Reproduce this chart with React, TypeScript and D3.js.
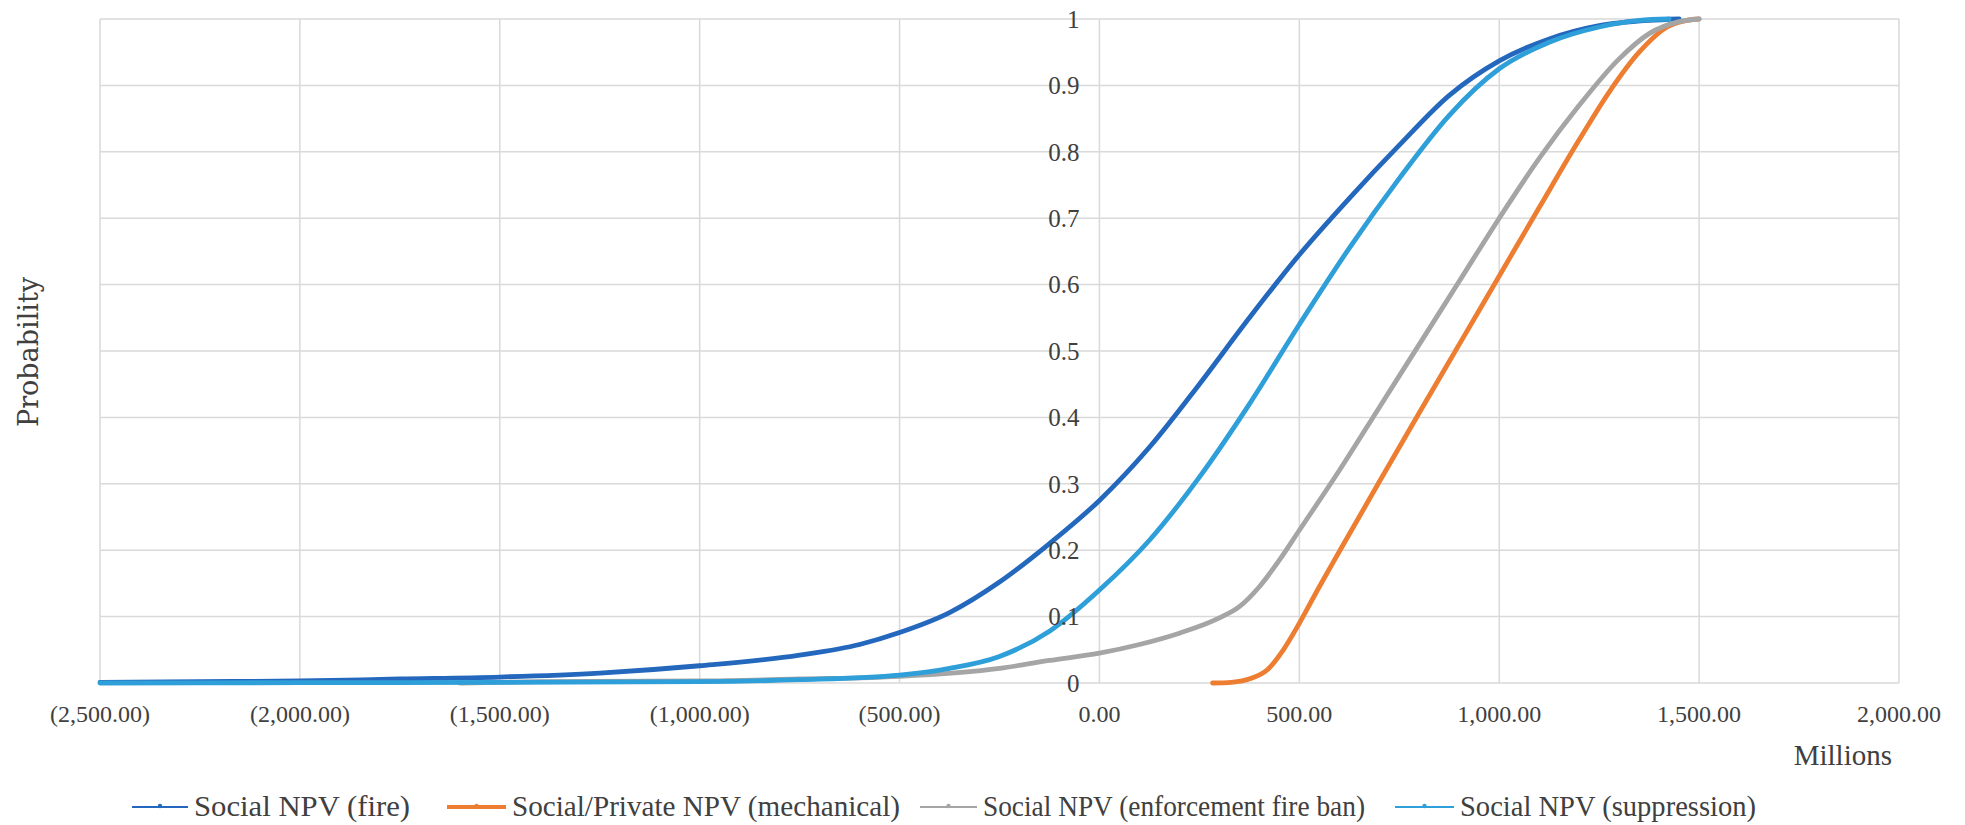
import React from "react";
import * as d3 from "d3";

// ---- data ----
const xTickValues = [-2500, -2000, -1500, -1000, -500, 0, 500, 1000, 1500, 2000];
const yTickValues = [0, 0.1, 0.2, 0.3, 0.4, 0.5, 0.6, 0.7, 0.8, 0.9, 1];

const fireX = [-2500, -2250, -2000, -1750, -1500, -1250, -1000, -750, -600, -500, -375, -250, -125, 0, 125, 250, 375, 500, 625, 750, 875, 1000, 1125, 1250, 1375, 1450];
const fireP = [0.001, 0.002, 0.003, 0.006, 0.009, 0.015, 0.026, 0.042, 0.058, 0.076, 0.106, 0.152, 0.21, 0.275, 0.355, 0.45, 0.55, 0.645, 0.73, 0.81, 0.885, 0.937, 0.97, 0.99, 0.998, 1.0];

const mechX = [283, 330, 380, 420, 460, 500, 550, 600, 700, 800, 900, 1000, 1100, 1200, 1275, 1350, 1420, 1470, 1500];
const mechP = [0.0, 0.001, 0.007, 0.02, 0.05, 0.09, 0.145, 0.198, 0.303, 0.407, 0.51, 0.613, 0.716, 0.818, 0.89, 0.95, 0.988, 0.998, 1.0];

const banX = [-1600, -1400, -1000, -750, -500, -250, -125, 0, 100, 200, 300, 350, 400, 450, 500, 600, 700, 800, 900, 1000, 1100, 1200, 1300, 1375, 1450, 1500];
const banP = [0.0, 0.002, 0.003, 0.006, 0.01, 0.022, 0.034, 0.045, 0.058, 0.075, 0.098, 0.115, 0.145, 0.185, 0.23, 0.32, 0.415, 0.51, 0.605, 0.7, 0.79, 0.87, 0.94, 0.978, 0.996, 1.0];

const supX = [-2500, -2000, -1500, -1000, -750, -500, -375, -250, -125, 0, 125, 250, 375, 500, 625, 750, 875, 1000, 1125, 1250, 1350, 1425];
const supP = [0.0, 0.0005, 0.001, 0.002, 0.005, 0.012, 0.022, 0.04, 0.078, 0.14, 0.215, 0.31, 0.42, 0.54, 0.655, 0.76, 0.855, 0.925, 0.965, 0.988, 0.998, 1.0];

const seriesNames = [
  "Social NPV (fire)",
  "Social/Private NPV (mechanical)",
  "Social NPV (enforcement fire ban)",
  "Social NPV (suppression)",
];
const seriesColors = ["#2468BE", "#ED7D31", "#A5A5A5", "#2F9FD9"];
const seriesXs = [fireX, mechX, banX, supX];
const seriesPs = [fireP, mechP, banP, supP];

const W = 1965;
const H = 825;
const FONT = "Liberation Serif";

export default function App() {
  const x = d3.scaleLinear().domain([-2500, 2000]).range([100, 1899]);
  const y = d3.scaleLinear().domain([0, 1]).range([683, 19]);
  const line = d3
    .line<[number, number]>()
    .x((d) => x(d[0]))
    .y((d) => y(d[1]))
    .curve(d3.curveMonotoneX);

  const fmtX = (v: number) =>
    v < 0 ? `(${d3.format(",.2f")(-v)})` : d3.format(",.2f")(v);
  const fmtY = (v: number) => d3.format("~g")(+v.toFixed(1));

  const legendX = [132, 447, 920, 1395];
  const legendTextX = [194, 512, 983, 1460];
  const legendTextW = [216, 388, 382, 296];
  const legendY = 807;

  return (
    <svg
      width={W}
      height={H}
      style={{ position: "absolute", left: 0, top: 0, background: "#fff" }}
    >
      <rect x={0} y={0} width={W} height={H} fill="#fff" />
      {xTickValues.map((v) => (
        <line key={"vx" + v} x1={x(v)} x2={x(v)} y1={y(1)} y2={y(0)} stroke="#D9D9D9" strokeWidth={1.5} />
      ))}
      {yTickValues.map((v) => (
        <line key={"hy" + v} x1={x(-2500)} x2={x(2000)} y1={y(v)} y2={y(v)} stroke="#D9D9D9" strokeWidth={1.5} />
      ))}
      {seriesXs.map((xs, i) => (
        <path
          key={"s" + i}
          d={line(xs.map((v, j) => [v, seriesPs[i][j]] as [number, number])) || ""}
          fill="none"
          stroke={seriesColors[i]}
          strokeWidth={4.8}
          strokeLinejoin="round"
          strokeLinecap="round"
        />
      ))}
      {xTickValues.map((v) => (
        <text key={"tx" + v} x={x(v)} y={722} textAnchor="middle" fontFamily={FONT} fontSize={24} fill="#404040">
          {fmtX(v)}
        </text>
      ))}
      {yTickValues.map((v) => (
        <text key={"ty" + v} x={x(0) - 20} y={y(v)} dy="0.35em" textAnchor="end" fontFamily={FONT} fontSize={25} fill="#404040">
          {fmtY(v)}
        </text>
      ))}
      <text x={1892} y={765} textAnchor="end" fontFamily={FONT} fontSize={29} fill="#404040">
        Millions
      </text>
      <text
        transform={`translate(38, 352) rotate(-90)`}
        textAnchor="middle"
        fontFamily="DejaVu Serif"
        fontSize={27}
        fill="#404040"
      >
        Probability
      </text>
      {seriesNames.map((name, i) => (
        <g key={"lg" + i}>
          <line
            x1={legendX[i]}
            x2={legendTextX[i] - 6}
            y1={legendY}
            y2={legendY}
            stroke={seriesColors[i]}
            strokeWidth={i === 1 ? 4 : 2}
          />
          <circle cx={(legendX[i] + legendTextX[i] - 6) / 2} cy={legendY - 1} r={2.2} fill={seriesColors[i]} />
          <text
            x={legendTextX[i]}
            y={legendY + 9}
            fontFamily={FONT}
            fontSize={30}
            fill="#404040"
            textLength={legendTextW[i]}
            lengthAdjust="spacingAndGlyphs"
          >
            {name}
          </text>
        </g>
      ))}
    </svg>
  );
}
